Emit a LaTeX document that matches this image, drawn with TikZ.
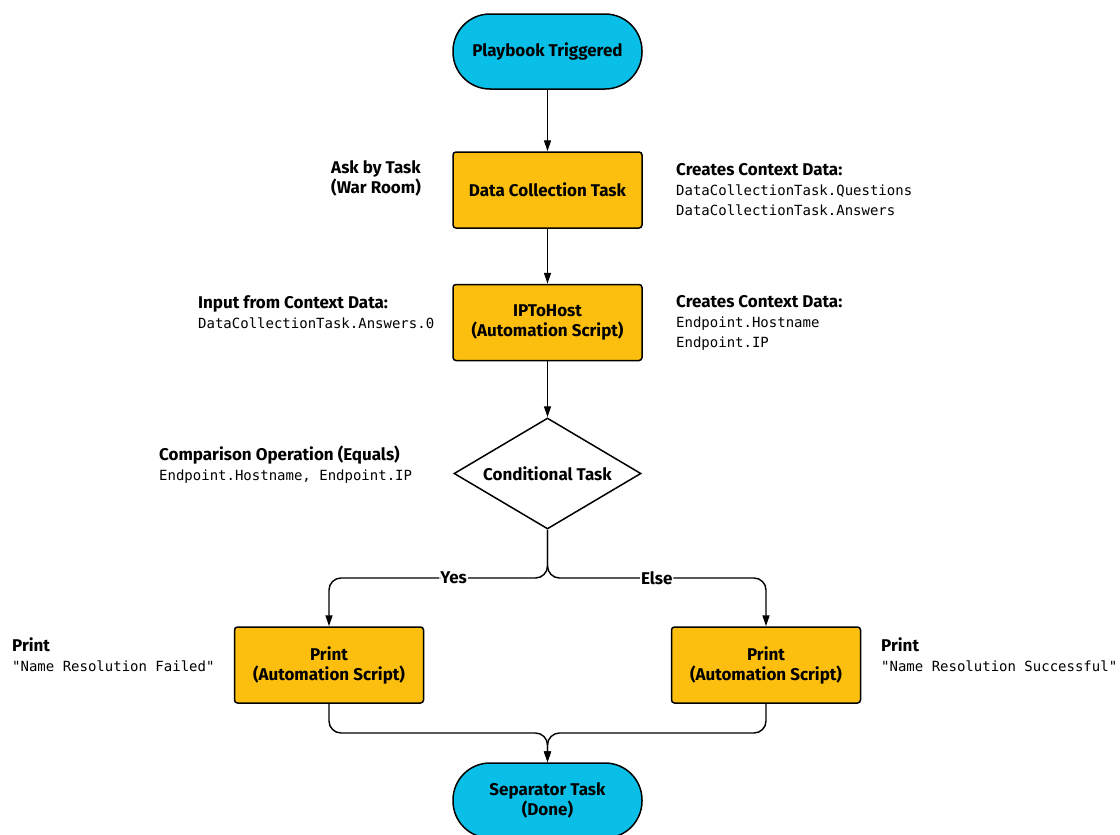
\documentclass[tikz,border=0pt]{standalone}
\usepackage{fontspec}
\setmainfont{Fira Sans}
\setmonofont{DejaVu Sans Mono}
\usetikzlibrary{shapes.geometric,arrows.meta}
\definecolor{cyanfill}{HTML}{0ABFE7}
\definecolor{orangefill}{HTML}{FCBF10}
\tikzset{
  stadium/.style={draw=black, line width=1.5pt, fill=cyanfill, rounded corners=37pt,
    minimum width=189pt, minimum height=75pt, align=center,
    font=\bfseries\fontsize{17}{20}\selectfont},
  taskbox/.style={draw=black, line width=1.5pt, fill=orangefill, rounded corners=3pt,
    minimum width=189pt, minimum height=76pt, align=center,
    font=\bfseries\fontsize{17}{20}\selectfont},
  decision/.style={draw=black, line width=1.5pt, fill=white, diamond, aspect=1.68,
    inner sep=0pt, minimum width=187pt, minimum height=111pt,
    font=\bfseries\fontsize{17}{20}\selectfont},
  note/.style={inner sep=0pt, align=left, font=\fontsize{14}{20}\selectfont},
  notec/.style={inner sep=0pt, align=center, font=\fontsize{17}{20}\selectfont},
  conn/.style={line width=1.4pt, -{Triangle[length=11pt,width=7pt]}},
  branchlabel/.style={fill=white, inner sep=1pt, font=\bfseries\fontsize{17}{18}\selectfont},
}
\newcommand{\nb}[1]{{\bfseries\fontsize{17}{20}\selectfont #1}}
\newcommand{\nm}[1]{{\ttfamily\fontsize{14}{20}\selectfont #1}}
\begin{document}
\begin{tikzpicture}[x=1pt,y=-1pt]
\useasboundingbox (0,0) rectangle (1120,835);
\node[stadium] (start) at (547.5,51.5) {Playbook Triggered};
\node[taskbox] (dc) at (547.5,190) {Data Collection Task};
\node[taskbox] (ip) at (547.5,322.5) {IPToHost\\(Automation Script)};
\node[decision] (cond) at (547.5,473.5) {Conditional Task};
\node[taskbox] (pl) at (329,665) {Print\\(Automation Script)};
\node[taskbox] (pr) at (766,665) {Print\\(Automation Script)};
\node[stadium] (sep) at (547.5,800.5) {Separator Task\\(Done)};

\coordinate (split) at (547.5,578);
\coordinate (merge) at (547.5,733);

\draw[conn] (start) -- (dc);
\draw[conn] (dc) -- (ip);
\draw[conn] (ip) -- (cond.north);
\draw[conn, rounded corners=12pt] (cond.south) -- (split) -| node[branchlabel, pos=0.215] (yes) {Yes} (pl.north);
\draw[conn, rounded corners=12pt] (cond.south) -- (split) -| node[branchlabel, pos=0.25] (else) {Else} (pr.north);
\draw[conn, rounded corners=12pt] (pl.south) |- (merge) -- (sep.north);
\draw[conn, rounded corners=12pt] (pr.south) |- (merge) -- (sep.north);

\node[notec, anchor=east] (ask) at (421,178) {\nb{Ask by Task}\\\nb{(War Room)}};
\node[note, anchor=west] (cc1) at (676,190) {\nb{Creates Context Data:}\\\nm{DataCollectionTask.Questions}\\\nm{DataCollectionTask.Answers}};
\node[note, anchor=west] (inp) at (198,312) {\nb{Input from Context Data:}\\\nm{DataCollectionTask.Answers.0}};
\node[note, anchor=west] (cc2) at (676,322.5) {\nb{Creates Context Data:}\\\nm{Endpoint.Hostname}\\\nm{Endpoint.IP}};
\node[note, anchor=west] (cmp) at (159,465) {\nb{Comparison Operation (Equals)}\\\nm{Endpoint.Hostname, Endpoint.IP}};
\node[note, anchor=west] (pfl) at (12,655) {\nb{Print}\\\nm{"Name Resolution Failed"}};
\node[note, anchor=west] (psc) at (881,655) {\nb{Print}\\\nm{"Name Resolution Successful"}};
\end{tikzpicture}
\end{document}
